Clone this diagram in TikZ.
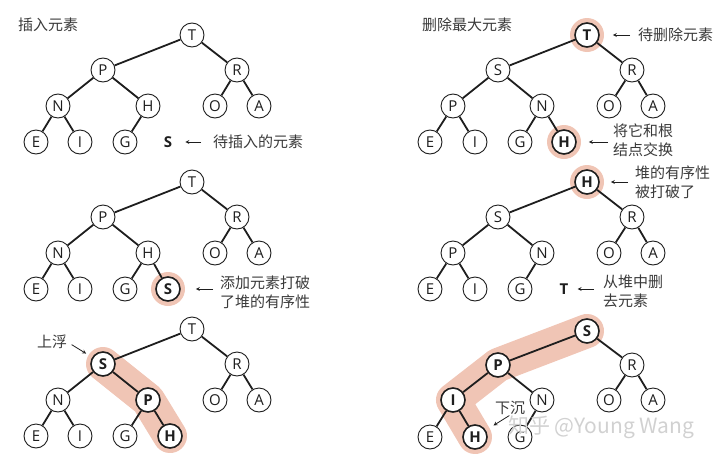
\documentclass[tikz,border=0pt]{standalone}
\usepackage{fontspec}
\setmainfont{Open Sans}
\newfontfamily\cjk{Noto Sans CJK SC}
\usetikzlibrary{arrows, positioning, backgrounds}
\definecolor{hpink}{HTML}{F0C5B5}
\definecolor{hdark}{HTML}{1E1E1E}
\definecolor{hgrey}{HTML}{3A3A3A}

\begin{document}
\begin{tikzpicture}[x=1pt, y=-1pt]

\tikzstyle{key} = [circle, draw=hdark, fill=white, line width=0.9pt, minimum size=24pt, inner sep=0pt, text=hdark, font=\fontsize{15}{15}\selectfont]
\tikzstyle{hot} = [key, line width=1.6pt, font=\fontsize{15}{15}\selectfont\bfseries]
\tikzstyle{loose} = [inner sep=2pt, text=hdark, font=\fontsize{15}{15}\selectfont\bfseries]
\tikzstyle{edge} = [hdark, line width=1.8pt]
\tikzstyle{arrow} = [->, >=stealth, hdark, line width=0.8pt]
\tikzstyle{note} = [anchor=west, inner sep=0pt, align=left, text=hgrey, font=\cjk\fontsize{15}{19}\selectfont]
\tikzstyle{glow} = [hpink, line width=34pt, line cap=round, line join=round]
\tikzstyle{wmark} = [anchor=west, inner sep=0pt, text=black!18, font=\cjk\fontsize{21}{21}\selectfont]

\useasboundingbox (0,0) rectangle (720,458);

% Titles
\node[note] (title1) at (18,25) {插入元素};
\node[note] (title2) at (422,25) {删除最大元素};

% Insert: new key waits
\begin{scope}[shift={(192,35)}]
\node[key] (a1) at (0,0) {T};
\node[key] (a2) at (-89,35) {P};
\node[key] (a3) at (45,35) {R};
\node[key] (a4) at (-134,71) {N};
\node[key] (a5) at (-44,71) {H};
\node[key] (a6) at (23,71) {O};
\node[key] (a7) at (67,71) {A};
\node[key] (a8) at (-156,107) {E};
\node[key] (a9) at (-112,107) {I};
\node[key] (a10) at (-67,107) {G};
\node[loose] (a11) at (-24,107) {S};
\node[note] (anote) at (21,107) {待插入的元素};
\end{scope}
\draw[edge] (a1) -- (a2) (a1) -- (a3) (a2) -- (a4) (a2) -- (a5) (a3) -- (a6) (a3) -- (a7) (a4) -- (a8) (a4) -- (a9) (a5) -- (a10);
\draw[arrow, shorten <=12pt, shorten >=11pt] (anote.west) -- (a11.east);

% Delete: max key at root
\begin{scope}[shift={(587,35)}]
\node[hot] (b1) at (0,0) {T};
\node[key] (b2) at (-89,35) {S};
\node[key] (b3) at (45,35) {R};
\node[key] (b4) at (-134,71) {P};
\node[key] (b5) at (-45,71) {N};
\node[key] (b6) at (22,71) {O};
\node[key] (b7) at (66,71) {A};
\node[key] (b8) at (-157,107) {E};
\node[key] (b9) at (-112,107) {I};
\node[key] (b10) at (-67,107) {G};
\node[hot] (b11) at (-23,107) {H};
\node[note] (bnote1) at (51,0) {待删除元素};
\node[note] (bnote2) at (26,105) {将它和根\\结点交换};
\end{scope}
\draw[edge] (b1) -- (b2) (b1) -- (b3) (b2) -- (b4) (b2) -- (b5) (b3) -- (b6) (b3) -- (b7) (b4) -- (b8) (b4) -- (b9) (b5) -- (b10) (b5) -- (b11);
\draw[arrow, shorten <=8pt, shorten >=13pt] (bnote1.west) -- (b1.east);
\draw[arrow, shorten <=5pt, shorten >=12pt] (bnote2.west |- b11) -- (b11.east);

% Insert: key added at bottom
\begin{scope}[shift={(192,182)}]
\node[key] (c1) at (0,0) {T};
\node[key] (c2) at (-89,35) {P};
\node[key] (c3) at (45,35) {R};
\node[key] (c4) at (-134,71) {N};
\node[key] (c5) at (-44,71) {H};
\node[key] (c6) at (23,71) {O};
\node[key] (c7) at (67,71) {A};
\node[key] (c8) at (-156,107) {E};
\node[key] (c9) at (-112,107) {I};
\node[key] (c10) at (-67,107) {G};
\node[hot] (c11) at (-24,107) {S};
\node[note] (cnote) at (28,110) {添加元素打破\\了堆的有序性};
\end{scope}
\draw[edge] (c1) -- (c2) (c1) -- (c3) (c2) -- (c4) (c2) -- (c5) (c3) -- (c6) (c3) -- (c7) (c4) -- (c8) (c4) -- (c9) (c5) -- (c10) (c5) -- (c11);
\draw[arrow, shorten <=7pt, shorten >=15pt] (cnote.west |- c11) -- (c11.east);

% Delete: last key moved to root
\begin{scope}[shift={(587,182)}]
\node[hot] (d1) at (0,0) {H};
\node[key] (d2) at (-89,35) {S};
\node[key] (d3) at (45,35) {R};
\node[key] (d4) at (-134,71) {P};
\node[key] (d5) at (-45,71) {N};
\node[key] (d6) at (22,71) {O};
\node[key] (d7) at (66,71) {A};
\node[key] (d8) at (-157,107) {E};
\node[key] (d9) at (-112,107) {I};
\node[key] (d10) at (-67,107) {G};
\node[loose] (d11) at (-23,107) {T};
\node[note] (dnote1) at (48,0) {堆的有序性\\被打破了};
\node[note] (dnote2) at (16,109) {从堆中删\\去元素};
\end{scope}
\draw[edge] (d1) -- (d2) (d1) -- (d3) (d2) -- (d4) (d2) -- (d5) (d3) -- (d6) (d3) -- (d7) (d4) -- (d8) (d4) -- (d9) (d5) -- (d10);
\draw[arrow, shorten <=7pt, shorten >=11pt] (dnote1.west) -- (d1.east);
\draw[arrow, shorten <=9pt, shorten >=7pt] (dnote2.west |- d11) -- (d11.east);

% Insert: swim up
\begin{scope}[shift={(192,329)}]
\node[key] (e1) at (0,0) {T};
\node[hot] (e2) at (-89,35) {S};
\node[key] (e3) at (45,35) {R};
\node[key] (e4) at (-134,71) {N};
\node[hot] (e5) at (-44,71) {P};
\node[key] (e6) at (23,71) {O};
\node[key] (e7) at (67,71) {A};
\node[key] (e8) at (-156,107) {E};
\node[key] (e9) at (-112,107) {I};
\node[key] (e10) at (-67,107) {G};
\node[hot] (e11) at (-22,107) {H};
\node[note] (eup) at (-155,13) {上浮};
\end{scope}
\draw[edge] (e1) -- (e2) (e1) -- (e3) (e2) -- (e4) (e2) -- (e5) (e3) -- (e6) (e3) -- (e7) (e4) -- (e8) (e4) -- (e9) (e5) -- (e10) (e5) -- (e11);
\draw[arrow, shorten <=5pt, shorten >=7pt] (eup.east) -- (e2);

% Delete: sink down
\begin{scope}[shift={(587,331)}]
\node[hot] (f1) at (0,0) {S};
\node[hot] (f2) at (-89,34) {P};
\node[key] (f3) at (45,34) {R};
\node[hot] (f4) at (-134,69) {I};
\node[key] (f5) at (-45,69) {N};
\node[key] (f6) at (22,69) {O};
\node[key] (f7) at (66,69) {A};
\node[key] (f8) at (-157,106) {E};
\node[hot] (f9) at (-112,106) {H};
\node[key] (f10) at (-67,106) {G};
\node[note] (fdown) at (-92,77) {下沉};
\end{scope}
\draw[edge] (f1) -- (f2) (f1) -- (f3) (f2) -- (f4) (f2) -- (f5) (f3) -- (f6) (f3) -- (f7) (f4) -- (f8) (f4) -- (f9) (f5) -- (f10);
\draw[arrow, shorten <=1pt, shorten >=9pt] (fdown.south) -- (f9);

% Highlights
\begin{scope}[on background layer]
\fill[hpink] (b1) circle (17pt) (b11) circle (17pt) (c11) circle (17pt) (d1) circle (17pt);
\draw[glow] (e2.center) -- (e5.center) -- (e11.center);
\draw[glow] (f1.center) -- (f2.center) -- (f4.center) -- (f9.center);
\end{scope}

\node[wmark] (wm) at (508,427) {知乎 @Young Wang};

\end{tikzpicture}
\end{document}
